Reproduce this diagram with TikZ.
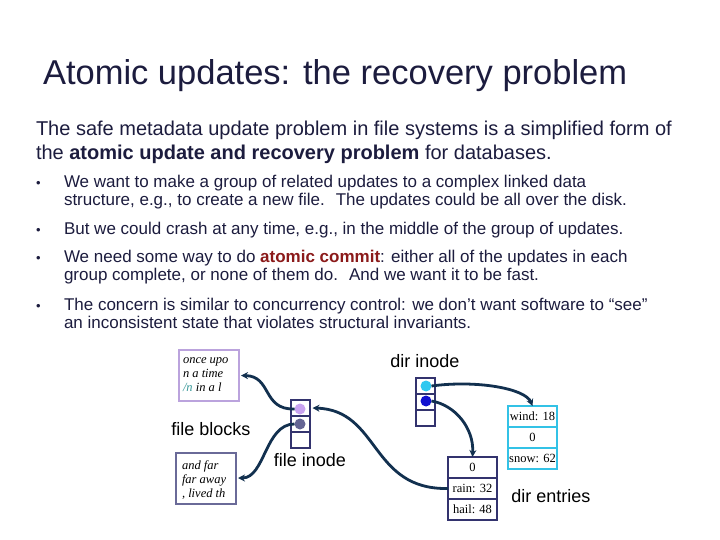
\documentclass[tikz,border=0pt]{standalone}
\usepackage{fontspec}
\setmainfont{Liberation Sans}
\newfontfamily\srf{Liberation Serif}
\usetikzlibrary{arrows.meta}
\definecolor{ink}{HTML}{1C1C3E}
\definecolor{wire}{HTML}{12304F}
\definecolor{lav}{HTML}{BBA3DD}
\definecolor{slate}{HTML}{6A6A98}
\definecolor{navy}{HTML}{33336E}
\definecolor{cyanb}{HTML}{33C2E6}
\definecolor{cdot}{HTML}{2EC8F0}
\definecolor{bdot}{HTML}{1010D0}
\definecolor{ldot}{HTML}{C9A2F0}
\definecolor{gdot}{HTML}{646494}
\definecolor{commit}{HTML}{8B1A1A}
\definecolor{tealn}{HTML}{3A9A9A}
\begin{document}
\begin{tikzpicture}[x=1pt,y=-1pt,
  every node/.style={inner sep=0pt,outer sep=0pt},
  line/.style={anchor=base west,text=ink,font=\fontsize{17}{20}\selectfont},
  para/.style={anchor=base west,text=ink,font=\fontsize{20}{22}\selectfont},
  bul/.style={anchor=base west,text=ink,font=\fontsize{13}{14}\selectfont},
  lbl/.style={text=black,font=\fontsize{18}{20}\selectfont},
  cell/.style={draw=navy,line width=2pt,minimum width=19pt,minimum height=16pt},
  ecell/.style={line width=2pt,minimum width=49pt,minimum height=21pt,
    font=\srf\fontsize{12.5}{14}\selectfont,text=black},
  dot/.style={circle,minimum size=11pt},
  blk/.style={line width=2pt,minimum width=60pt,minimum height=51pt},
  blktext/.style={anchor=north west,align=left,text=black,
    font=\srf\itshape\fontsize{12.5}{14}\selectfont},
  wirearr/.style={draw=wire,line width=2.8pt,-{Stealth[length=7pt,width=7pt]}}
]
\useasboundingbox[fill=white] (0,0) rectangle (720,540);

% title
\node[anchor=base west,text=ink,font=\fontsize{34.5}{38}\selectfont] (title) at (43,85) {Atomic updates: the recovery problem};

% paragraph
\node[para] (p1) at (36,136) {The safe metadata update problem in file systems is a simplified form of};
\node[para] (p2) at (36,160) {the \textbf{atomic update and recovery problem} for databases.};

% bullets
\node[bul] (b1) at (36,188) {•};
\node[line] (l1a) at (64,188) {We want to make a group of related updates to a complex linked data};
\node[line] (l1b) at (64,206) {structure, e.g., to create a new file.~ The updates could be all over the disk.};
\node[bul] (b2) at (36,234) {•};
\node[line] (l2a) at (64,234) {But we could crash at any time, e.g., in the middle of the group of updates.};
\node[bul] (b3) at (36,262) {•};
\node[line] (l3a) at (64,262) {We need some way to do \textcolor{commit}{\textbf{atomic commit}}: either all of the updates in each};
\node[line] (l3b) at (64,280) {group complete, or none of them do.~ And we want it to be fast.};
\node[bul] (b4) at (36,310) {•};
\node[line] (l4a) at (64,310) {The concern is similar to concurrency control: we don’t want software to “see”};
\node[line] (l4b) at (64,328) {an inconsistent state that violates structural invariants.};

% file blocks
\node[blk,draw=lav] (ba) at (209,375.5) {};
\node[blktext] (bat) at (183,358) {once upo\\n a time\\\textcolor{tealn}{/n} in a l};
\node[blk,draw=slate] (bb) at (206,478) {};
\node[blktext] (bbt) at (182,461) {and far\\far away\\, lived th};
\node[lbl] (fbl) at (211,429) {file blocks};

% file inode
\node[cell] (fi1) at (300,408) {};
\node[cell] (fi2) at (300,424) {};
\node[cell] (fi3) at (300,440) {};
\node[dot,fill=ldot] (fd1) at (300,409) {};
\node[dot,fill=gdot] (fd2) at (300,424) {};
\node[lbl] (fil) at (310,460) {file inode};

% dir inode
\node[lbl] (dil) at (425,361) {dir inode};
\node[cell] (di1) at (425,385.5) {};
\node[cell] (di2) at (425,401.5) {};
\node[cell] (di3) at (425,417.5) {};
\node[dot,fill=cdot] (dd1) at (426,386) {};
\node[dot,fill=bdot] (dd2) at (426,401) {};

% dir entries
\node[ecell,draw=cyanb] (ea1) at (532.5,416.5) {wind: 18};
\node[ecell,draw=cyanb] (ea2) at (532.5,437.5) {0};
\node[ecell,draw=cyanb] (ea3) at (532.5,458.5) {snow: 62};
\node[ecell,draw=navy] (eb1) at (472.5,467.5) {0};
\node[ecell,draw=navy] (eb2) at (472.5,488.5) {rain: 32};
\node[ecell,draw=navy] (eb3) at (472.5,509.5) {hail: 48};
\node[lbl] (del) at (551,496) {dir entries};

% connectors
\draw[wirearr] (dd1.east) .. controls (475,380) and (525,388) .. (ea1.north);
\draw[wirearr] (dd2.east) .. controls (455,405) and (474,428) .. (eb1.north);
\draw[wirearr] (eb2.west) .. controls (370,490) and (380,410) .. ([xshift=3pt]fi1.east);
\draw[wirearr] (fd1.west) .. controls (262,410) and (272,376) .. ([xshift=2pt]ba.east);
\draw[wirearr] (fd2.west) .. controls (265,424) and (265,478) .. ([xshift=2pt]bb.east);
\end{tikzpicture}
\end{document}
